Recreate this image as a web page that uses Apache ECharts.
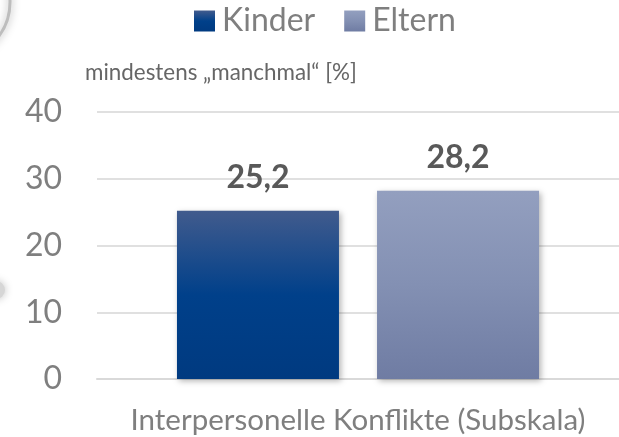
<!DOCTYPE html>
<html>
<head>
<meta charset="utf-8">
<script src="https://cdn.jsdelivr.net/npm/echarts@6/dist/echarts.min.js"></script>
<style>
  html, body { margin: 0; padding: 0; background: #fff; }
  #chart { width: 619px; height: 437px; }
</style>
</head>
<body>
<div id="chart"></div>
<script>
const categories = ["Interpersonelle Konflikte (Subskala)"];
const kinder = [25.2];
const eltern = [28.2];
const yTicks = [0, 10, 20, 30, 40];

const font = "Lato";
const chart = echarts.init(document.getElementById("chart"));

const grad = (top, mid, bottom) => new echarts.graphic.LinearGradient(0, 0, 0, 1, [
  { offset: 0, color: top },
  { offset: 0.5, color: mid },
  { offset: 1, color: bottom }
]);

const barShadow = {
  shadowBlur: 6,
  shadowColor: "rgba(0,0,0,0.3)",
  shadowOffsetX: 2,
  shadowOffsetY: 2
};

const valueLabel = {
  show: true,
  position: "top",
  distance: 17,
  fontFamily: font,
  fontWeight: "bold",
  fontSize: 32,
  color: "#595959",
  formatter: p => String(p.value).replace(".", ",")
};

chart.setOption({
  animation: false,
  title: {
    text: "mindestens „manchmal“ [%]",
    left: 80,
    top: 57,
    textStyle: { fontFamily: font, fontWeight: "normal", fontSize: 22.4, color: "#666" }
  },
  legend: {
    left: 194,
    top: 5,
    padding: 0,
    icon: "rect",
    itemWidth: 21,
    itemHeight: 21,
    itemGap: 29,
    textStyle: { fontFamily: font, fontSize: 32, color: "#7f7f7f", padding: [0, 0, 0, 2] },
    data: ["Kinder", "Eltern"]
  },
  grid: { left: 97, right: 0, top: 112, bottom: 58 },
  xAxis: {
    type: "category",
    data: categories,
    axisLine: { lineStyle: { color: "#d9d9d9", width: 2 } },
    axisTick: { show: false },
    axisLabel: { fontFamily: font, fontSize: 29.5, color: "#7f7f7f", margin: 26 }
  },
  yAxis: {
    type: "value",
    min: yTicks[0],
    max: yTicks[yTicks.length - 1],
    interval: 10,
    axisLine: { show: false },
    axisTick: { show: false },
    axisLabel: { fontFamily: font, fontSize: 32, color: "#7f7f7f", margin: 35 },
    splitLine: { lineStyle: { color: "#e0e0e0", width: 2 } }
  },
  series: [
    {
      name: "Kinder",
      type: "bar",
      data: kinder,
      barWidth: 162,
      barGap: "23.5%",
      itemStyle: Object.assign({ color: grad("#415b8d", "#00408a", "#003a80") }, barShadow),
      label: valueLabel
    },
    {
      name: "Eltern",
      type: "bar",
      data: eltern,
      barWidth: 162,
      itemStyle: Object.assign({ color: grad("#939fbf", "#8390b3", "#6f7ca3") }, barShadow),
      label: valueLabel
    }
  ],
  graphic: [
    {
      type: "circle",
      shape: { cx: -48, cy: 2, r: 58 },
      style: { fill: "none", stroke: "#bdbdbd", lineWidth: 3, shadowBlur: 8, shadowColor: "rgba(0,0,0,0.35)" },
      silent: true
    },
    {
      type: "circle",
      shape: { cx: -4, cy: 290, r: 9 },
      style: { fill: "#d6d6d6", shadowBlur: 8, shadowColor: "rgba(0,0,0,0.25)" },
      silent: true
    }
  ]
});
</script>
</body>
</html>
